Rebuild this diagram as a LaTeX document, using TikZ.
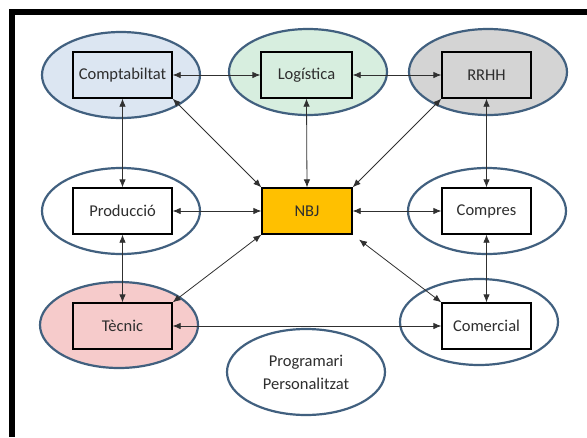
\documentclass[tikz,border=0pt]{standalone}
\usepackage{fontspec}
\setmainfont{Carlito}
\usetikzlibrary{arrows.meta,shapes.geometric}
\definecolor{ringblue}{HTML}{41607F}
\definecolor{fillblue}{HTML}{DCE6F2}
\definecolor{fillgreen}{HTML}{D7EEDF}
\definecolor{fillgrey}{HTML}{D4D4D4}
\definecolor{fillpink}{HTML}{F6CBCB}
\definecolor{nbjorange}{HTML}{FFC000}
\definecolor{txt}{HTML}{2E2E2E}
\definecolor{linkgrey}{HTML}{303030}
\tikzset{
  ring/.style={ellipse, draw=ringblue, line width=2.2pt, minimum width=158pt, minimum height=86pt, inner sep=0pt},
  dept/.style={rectangle, draw=black, line width=1.3pt, minimum width=99pt, minimum height=46pt, inner sep=0pt, text=txt},
  link/.style={draw=linkgrey, line width=0.8pt, {Latex[length=8pt,width=6.5pt]}-{Latex[length=8pt,width=6.5pt]}},
}
\begin{document}
\begin{tikzpicture}[x=1pt,y=-1pt,font=\fontsize{16.5}{23}\selectfont]
\useasboundingbox (0,0) rectangle (587,437);
\fill[white] (0,0) rectangle (587,437);
% black frame: top bar and left bar
\fill[black] (9,9) rectangle (587,15);
\fill[black] (9,9) rectangle (15,437);

% outer ellipses
\node[ring, fill=fillblue]  (comptE) at (121,75)  {};
\node[ring, fill=fillgreen] (logE)   at (308,72)  {};
\node[ring, fill=fillgrey]  (rrhhE)  at (488,72)  {};
\node[ring, fill=white]     (prodE)  at (121,211) {};
\node[ring, fill=white]     (compE)  at (487,211) {};
\node[ring, fill=fillpink]  (tecE)   at (119,325) {};
\node[ring, fill=white]     (comE)   at (479,322) {};
\node[ring, fill=white, text=txt, align=center] (prog) at (306,372) {Programari\\Personalitzat};

% department boxes
\node[dept, fill=fillblue]  (compt) at (122.5,75) {Comptabiltat};
\node[dept, fill=fillgreen, minimum width=91pt] (log) at (306.5,75) {Logística};
\node[dept, fill=fillgrey, minimum width=89pt]  (rrhh) at (486.5,75) {RRHH};
\node[dept, fill=white]     (prod)  at (122.5,211) {Producció};
\node[dept, fill=nbjorange, minimum width=90pt] (nbj) at (307,211) {NBJ};
\node[dept, fill=white, minimum width=89pt]  (comp) at (486.5,211) {Compres};
\node[dept, fill=fillpink]  (tec)   at (122.5,326) {Tècnic};
\node[dept, fill=white, minimum width=89pt]  (com)  at (486.5,326) {Comercial};

% connectors
\draw[link] (compt.east) -- (log.west);
\draw[link] (log.east) -- (rrhh.west);
\draw[link] (compt.south) -- (prod.north);
\draw[link] (log.south) -- (nbj.north);
\draw[link] (rrhh.south) -- (comp.north);
\draw[link] (compt.south east) -- (nbj.north west);
\draw[link] (rrhh.south west) -- (nbj.north east);
\draw[link] (prod.east) -- (nbj.west);
\draw[link] (nbj.east) -- (comp.west);
\draw[link] (prod.south) -- (tec.north);
\draw[link] (comp.south) -- (com.north);
\draw[link] (tec.north east) -- (nbj.south west);
\draw[link, shorten <=8pt] (nbj.south east) -- (com.north west);
\draw[link] (tec.east) -- (com.west);
\end{tikzpicture}
\end{document}
